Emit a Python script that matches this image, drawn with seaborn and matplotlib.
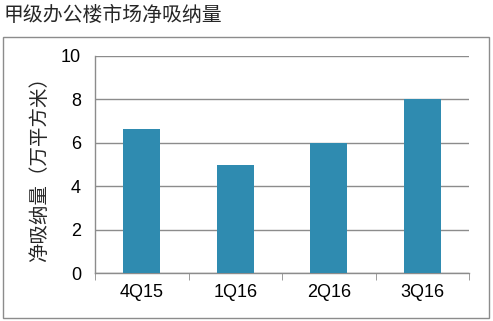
import matplotlib
matplotlib.use("Agg")
import matplotlib.pyplot as plt
import seaborn as sns
import pandas as pd
from matplotlib.patches import Rectangle

categories = ["4Q15", "1Q16", "2Q16", "3Q16"]
values = [6.65, 4.97, 6.0, 8.0]
yticks = [0, 2, 4, 6, 8, 10]

sns.set_style("white")
plt.rcParams['font.family'] = ['Liberation Sans', 'Noto Sans CJK SC', 'DejaVu Sans']

df = pd.DataFrame({"cat": categories, "val": values})

fig = plt.figure(figsize=(4.93, 3.21), dpi=100)
W, H = 493, 321
ax = fig.add_axes([95 / W, 1 - 273 / H, (469 - 95) / W, (273 - 56) / H])

sns.barplot(data=df, x="cat", y="val", color="#2F8BB0", saturation=1, width=0.4, ax=ax,
            zorder=3, linewidth=0)

ax.set_ylim(0, 10)
ax.set_yticks(yticks)
ax.set_xlim(-0.5, 3.5)
ax.yaxis.grid(True, color="#8c8c8c", linewidth=1.0, zorder=0)
ax.set_axisbelow(True)
ax.set_xlabel("")
ax.set_ylabel("净吸纳量（万平方米）", family=['Noto Sans CJK SC', 'DejaVu Sans'], fontsize=14, labelpad=8)

for s in ["top", "right"]:
    ax.spines[s].set_visible(False)
for s in ["left", "bottom"]:
    ax.spines[s].set_color("#8c8c8c")
    ax.spines[s].set_linewidth(1.0)

ax.set_xticks([0, 1, 2, 3])
ax.set_xticklabels(categories, fontsize=13)
ax.set_xticks([-0.5, 0.5, 1.5, 2.5, 3.5], minor=True)
ax.tick_params(axis="x", which="major", length=0, pad=8)
ax.tick_params(axis="x", which="minor", length=5, color="#8c8c8c", direction="out")
ax.tick_params(axis="y", length=5, color="#8c8c8c", direction="out", labelsize=13, pad=5)
ax.tick_params(axis="both", colors="#8c8c8c", labelcolor="black")
ax.tick_params(axis="x", which="minor", bottom=True)

fig.text(4 / W, 1 - 15 / H, "甲级办公楼市场净吸纳量", family=['Noto Sans CJK SC', 'DejaVu Sans'],
         fontsize=14.3, va="center", ha="left", fontweight="medium")

fig.patches.append(Rectangle((2.5 / W, 1 - 317.5 / H), (489 - 2.5) / W, (317.5 - 36.5) / H,
                             transform=fig.transFigure, fill=False, edgecolor="#8c8c8c", linewidth=1.0))

fig.savefig("out.png", dpi=100)
